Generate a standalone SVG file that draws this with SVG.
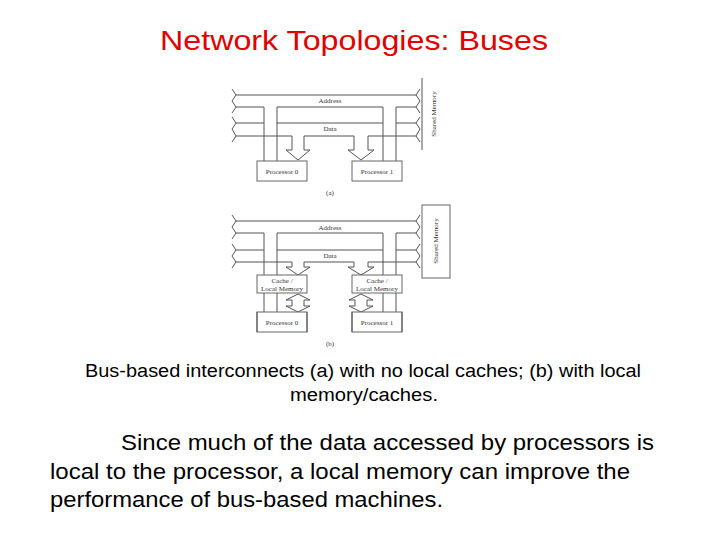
<svg xmlns="http://www.w3.org/2000/svg" width="720" height="540" viewBox="0 0 720 540">
<style>
.l{stroke:#555;stroke-width:1;fill:none}
.b{stroke:#666;stroke-width:1;fill:#fff}
.lb{font-family:"Liberation Serif",serif;font-size:7px;fill:#333}
.t{font-family:"Liberation Sans",Arial,sans-serif}
</style>
<rect width="720" height="540" fill="#fff"/>
<text class="t" x="160" y="50" font-size="28" fill="#e00000" textLength="388" lengthAdjust="spacingAndGlyphs">Network Topologies: Buses</text>
<g id="connectors">
<path class="l" d="M236,95 H416 M236,107 H264 M277,107 H383 M396,107 H416 M232,89 L236,95 L232,101 L236,107 L232,113 M420,89 L416,95 L420,101 L416,107 L420,113"/>
<path class="l" d="M236,123 H264 M277,123 H383 M396,123 H416 M236,136 H292 M304,136 H354 M368,136 H416 M232,117 L236,123 L232,129 L236,136 L232,142 M420,117 L416,123 L420,129 L416,136 L420,142"/>
<path class="l" d="M264,107 V161 M277,107 V161 M383,107 V161 M396,107 V161"/>
<path class="l" d="M422,78 V150"/>
<path class="l" d="M292,136 V150 H286 L298,160 L310,150 H304 V136 M354,136 V150 H348 L361,160 L374,150 H368 V136"/>
<path class="l" d="M236,221 H416 M236,233 H264 M277,233 H383 M396,233 H416 M232,215 L236,221 L232,227 L236,233 L232,239 M420,215 L416,221 L420,227 L416,233 L420,239"/>
<path class="l" d="M236,250 H264 M277,250 H383 M396,250 H416 M236,262 H292 M304,262 H354 M368,262 H416 M232,244 L236,250 L232,256 L236,262 L232,268 M420,244 L416,250 L420,256 L416,262 L420,268"/>
<path class="l" d="M264,233 V275 M277,233 V275 M383,233 V275 M396,233 V275 M264,293 V312 M277,293 V312 M383,293 V312 M396,293 V312"/>
<path class="l" d="M292,262 V267 H286 L298,275 L310,267 H304 V262 M354,262 V267 H348 L361,275 L374,267 H368 V262"/>
<path class="l" d="M298,294 L286,300 H292 V306 H286 L298,312 L310,306 H304 V300 H310 Z M361,294 L349,300 H355 V306 H349 L361,312 L373,306 H367 V300 H373 Z"/>
</g>
<g id="shared-memory-a"><text class="lb" transform="translate(436,114) rotate(-90)" text-anchor="middle">Shared Memory</text></g>
<g id="p0a"><rect class="b" x="257" y="161" width="50" height="20"/><text class="lb" x="282" y="174" text-anchor="middle">Processor 0</text></g>
<g id="p1a"><rect class="b" x="352" y="161" width="50" height="20"/><text class="lb" x="377" y="174" text-anchor="middle">Processor 1</text></g>
<text class="lb" x="330" y="195" text-anchor="middle">(a)</text>
<text class="lb" x="330" y="103" text-anchor="middle">Address</text>
<text class="lb" x="330" y="131" text-anchor="middle">Data</text>
<text class="lb" x="330" y="230" text-anchor="middle">Address</text>
<text class="lb" x="330" y="258" text-anchor="middle">Data</text>
<g id="shared-memory-b"><rect class="b" x="422" y="205" width="28" height="73"/><text class="lb" transform="translate(438,241) rotate(-90)" text-anchor="middle">Shared Memory</text></g>
<g id="cache0"><rect class="b" x="257" y="275" width="50" height="18"/><text class="lb" x="282" y="283" text-anchor="middle">Cache /</text><text class="lb" x="282" y="291" text-anchor="middle">Local Memory</text></g>
<g id="cache1"><rect class="b" x="352" y="275" width="50" height="18"/><text class="lb" x="377" y="283" text-anchor="middle">Cache /</text><text class="lb" x="377" y="291" text-anchor="middle">Local Memory</text></g>
<g id="p0b"><rect class="b" x="257" y="312" width="50" height="20" stroke="#ccc"/><path class="l" d="M257,312 V332 M307,312 V332"/><text class="lb" x="282" y="325" text-anchor="middle">Processor 0</text></g>
<g id="p1b"><rect class="b" x="352" y="312" width="50" height="20" stroke="#ccc"/><path class="l" d="M352,312 V332 M402,312 V332"/><text class="lb" x="377" y="325" text-anchor="middle">Processor 1</text></g>
<text class="lb" x="330" y="346" text-anchor="middle">(b)</text>
<text class="t" font-size="18" fill="#000" x="85" y="377" textLength="556" lengthAdjust="spacingAndGlyphs">Bus-based interconnects (a) with no local caches; (b) with local</text>
<text class="t" font-size="18" fill="#000" x="290" y="401" textLength="148" lengthAdjust="spacingAndGlyphs">memory/caches.</text>
<text class="t" font-size="22" fill="#000" x="121" y="450" textLength="533" lengthAdjust="spacingAndGlyphs">Since much of the data accessed by processors is</text>
<text class="t" font-size="22" fill="#000" x="50" y="479" textLength="580" lengthAdjust="spacingAndGlyphs">local to the processor, a local memory can improve the</text>
<text class="t" font-size="22" fill="#000" x="50" y="507" textLength="393" lengthAdjust="spacingAndGlyphs">performance of bus-based machines.</text>
</svg>
